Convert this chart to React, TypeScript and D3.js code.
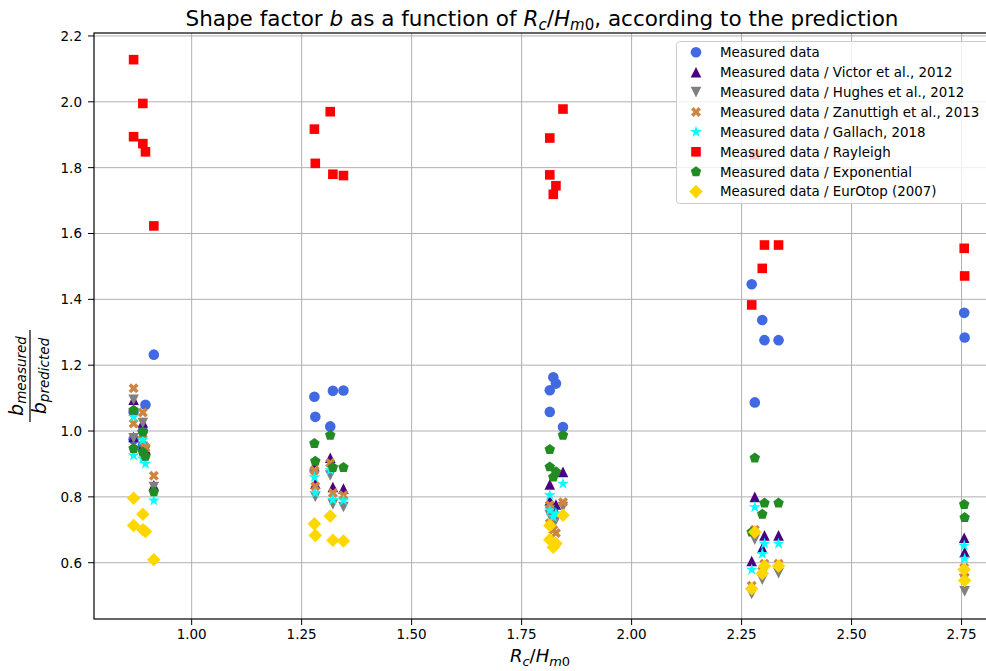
import React, { useEffect, useRef } from "react";
import * as d3 from "d3";

// relative freeboard of each test
const rcHm0 = [0.868, 0.868, 0.889, 0.889, 0.895, 0.914, 1.279, 1.281, 1.315, 1.321, 1.345, 1.814, 1.814, 1.822, 1.828, 1.844, 2.273, 2.28, 2.297, 2.302, 2.334, 2.756, 2.757];

// b_measured / b_predicted for each prediction
const measured = [1.058, 0.975, 1.0, 0.955, 1.08, 1.232, 1.104, 1.043, 1.014, 1.122, 1.123, 1.124, 1.058, 1.163, 1.144, 1.012, 1.446, 1.087, 1.337, 1.276, 1.276, 1.359, 1.284];
const victor = [1.095, 0.982, 1.026, 0.955, 0.945, 0.835, 0.893, 0.84, 0.919, 0.83, 0.825, 0.838, 0.789, 0.769, 0.777, 0.876, 0.605, 0.8, 0.645, 0.683, 0.683, 0.676, 0.632];
const hughes = [1.095, 0.978, 1.024, 0.952, 0.94, 0.83, 0.87, 0.8, 0.865, 0.777, 0.769, 0.76, 0.744, 0.715, 0.73, 0.769, 0.505, 0.67, 0.548, 0.577, 0.568, 0.55, 0.513];
const zanuttigh = [1.13, 1.023, 1.056, 0.99, 0.95, 0.864, 0.881, 0.832, 0.903, 0.812, 0.805, 0.775, 0.72, 0.7, 0.69, 0.784, 0.53, 0.7, 0.575, 0.597, 0.597, 0.585, 0.555];
const gallach = [1.043, 0.926, 0.972, 0.916, 0.901, 0.789, 0.86, 0.812, 0.881, 0.791, 0.789, 0.805, 0.759, 0.739, 0.75, 0.84, 0.579, 0.769, 0.627, 0.658, 0.658, 0.652, 0.612];
const rayleigh = [2.128, 1.894, 1.995, 1.873, 1.848, 1.623, 1.917, 1.813, 1.97, 1.78, 1.776, 1.89, 1.778, 1.719, 1.745, 1.978, 1.383, 1.839, 1.494, 1.565, 1.565, 1.555, 1.471];
const exponential = [1.063, 0.947, 0.997, 0.936, 0.923, 0.815, 0.962, 0.908, 0.987, 0.889, 0.889, 0.944, 0.891, 0.86, 0.876, 0.987, 0.693, 0.918, 0.747, 0.781, 0.781, 0.777, 0.737];
const eurotop = [0.796, 0.713, 0.747, 0.7, 0.695, 0.609, 0.718, 0.683, 0.742, 0.668, 0.666, 0.713, 0.67, 0.647, 0.658, 0.744, 0.521, 0.693, 0.567, 0.59, 0.59, 0.579, 0.546];

const xTicks = [1.0, 1.25, 1.5, 1.75, 2.0, 2.25, 2.5, 2.75];
const yTicks = [0.6, 0.8, 1.0, 1.2, 1.4, 1.6, 1.8, 2.0, 2.2];

const labels = [
  "Measured data",
  "Measured data / Victor et al., 2012",
  "Measured data / Hughes et al., 2012",
  "Measured data / Zanuttigh et al., 2013",
  "Measured data / Gallach, 2018",
  "Measured data / Rayleigh",
  "Measured data / Exponential",
  "Measured data / EurOtop (2007)",
];
const colors = ["royalblue", "indigo", "gray", "peru", "cyan", "red", "forestgreen", "gold"];
const values = [measured, victor, hughes, zanuttigh, gallach, rayleigh, exponential, eurotop];

// marker shapes, drawn with d3.symbol; size = r*r
const poly = (pts: number[][]) => ({
  draw(ctx: any, size: number) {
    const r = Math.sqrt(size);
    pts.forEach(([px, py], i) => (i ? ctx.lineTo(px * r, py * r) : ctx.moveTo(px * r, py * r)));
    ctx.closePath();
  },
});
const ring = (n: number, inner?: number) => {
  const pts: number[][] = [];
  const k = inner ? n * 2 : n;
  for (let i = 0; i < k; i++) {
    const a = -Math.PI / 2 + (i * 2 * Math.PI) / k;
    const rr = inner && i % 2 ? inner : 1;
    pts.push([rr * Math.cos(a), rr * Math.sin(a)]);
  }
  return pts;
};
const circle = {
  draw(ctx: any, size: number) {
    const r = Math.sqrt(size);
    ctx.moveTo(r, 0);
    ctx.arc(0, 0, r, 0, 2 * Math.PI);
  },
};
const markers = [
  { type: circle, r: 5.3 },
  { type: poly([[0, -1], [-1, 1], [1, 1]]), r: 5.3 },
  { type: poly([[0, 1], [-1, -1], [1, -1]]), r: 5.3 },
  { type: poly([[-0.5, -1], [0, -0.5], [0.5, -1], [1, -0.5], [0.5, 0], [1, 0.5], [0.5, 1], [0, 0.5], [-0.5, 1], [-1, 0.5], [-0.5, 0], [-1, -0.5]]), r: 5 },
  { type: poly(ring(5, 0.382)), r: 6.2 },
  { type: poly([[-1, -1], [1, -1], [1, 1], [-1, 1]]), r: 4.8 },
  { type: poly(ring(5)), r: 5.5 },
  { type: poly([[0, -1], [1, 0], [0, 1], [-1, 0]]), r: 6.8 },
];

const font = "'DejaVu Sans', sans-serif";

export default function App() {
  const ref = useRef<SVGSVGElement>(null);

  useEffect(() => {
    const svg = d3.select(ref.current);
    svg.selectAll("*").remove();

    const x = d3.scaleLinear().domain([0.778, 2.851]).range([94, 1006]);
    const y = d3.scaleLinear().domain([0.429, 2.209]).range([619, 33]);
    const [x0, x1] = x.range();
    const [y0, y1] = y.range();

    svg.append("rect").attr("width", 986).attr("height", 671).attr("fill", "white");

    // grid
    const grid = svg.append("g").attr("stroke", "#b0b0b0").attr("stroke-width", 1);
    grid.selectAll(".gx").data(xTicks).join("line")
      .attr("x1", d => x(d)).attr("x2", d => x(d)).attr("y1", y0).attr("y2", y1);
    grid.selectAll(".gy").data(yTicks).join("line")
      .attr("y1", d => y(d)).attr("y2", d => y(d)).attr("x1", x0).attr("x2", x1);

    // points
    values.forEach((vals, si) => {
      const sym = d3.symbol(markers[si].type as any, markers[si].r * markers[si].r);
      svg.append("g").selectAll("path").data(vals).join("path")
        .attr("d", sym)
        .attr("transform", (d, i) => `translate(${x(rcHm0[i])},${y(d)})`)
        .attr("fill", colors[si]);
    });

    // frame
    svg.append("rect").attr("x", x0).attr("y", y1).attr("width", x1 - x0).attr("height", y0 - y1)
      .attr("fill", "none").attr("stroke", "black").attr("stroke-width", 1.2);

    // axes ticks
    const xa = svg.append("g").attr("font-family", font).attr("font-size", 13.5);
    xa.selectAll("line").data(xTicks).join("line")
      .attr("x1", d => x(d)).attr("x2", d => x(d)).attr("y1", y0).attr("y2", y0 + 6).attr("stroke", "black");
    xa.selectAll("text").data(xTicks).join("text")
      .attr("x", d => x(d)).attr("y", y0 + 20).attr("text-anchor", "middle")
      .text(d => d3.format(".2f")(d));

    const ya = svg.append("g").attr("font-family", font).attr("font-size", 13.5);
    ya.selectAll("line").data(yTicks).join("line")
      .attr("y1", d => y(d)).attr("y2", d => y(d)).attr("x1", x0 - 6).attr("x2", x0).attr("stroke", "black");
    ya.selectAll("text").data(yTicks).join("text")
      .attr("x", x0 - 12).attr("y", d => y(d) + 5).attr("text-anchor", "end")
      .text(d => d3.format(".1f")(d));

    // title
    const title = svg.append("text").attr("x", 542).attr("y", 26).attr("text-anchor", "middle")
      .attr("font-family", font).attr("font-size", 21.5);
    title.append("tspan").text("Shape factor ");
    title.append("tspan").attr("font-style", "italic").text("b");
    title.append("tspan").text(" as a function of ");
    title.append("tspan").attr("font-style", "italic").text("R");
    title.append("tspan").attr("font-style", "italic").attr("font-size", 15).attr("dy", 4).text("c");
    title.append("tspan").attr("dy", -4).text("/");
    title.append("tspan").attr("font-style", "italic").text("H");
    title.append("tspan").attr("font-style", "italic").attr("font-size", 15).attr("dy", 4).text("m");
    title.append("tspan").attr("font-size", 15).text("0");
    title.append("tspan").attr("dy", -4).text(", according to the prediction");

    // x label
    const xl = svg.append("text").attr("x", 540).attr("y", 662).attr("text-anchor", "middle")
      .attr("font-family", font).attr("font-size", 18);
    xl.append("tspan").attr("font-style", "italic").text("R");
    xl.append("tspan").attr("font-style", "italic").attr("font-size", 13).attr("dy", 4).text("c");
    xl.append("tspan").attr("dy", -4).text("/");
    xl.append("tspan").attr("font-style", "italic").text("H");
    xl.append("tspan").attr("font-style", "italic").attr("font-size", 13).attr("dy", 4).text("m");
    xl.append("tspan").attr("font-size", 13).text("0");

    // y label: fraction
    const yl = svg.append("g").attr("transform", "translate(30,376) rotate(-90)")
      .attr("font-family", font).attr("font-style", "italic");
    const num = yl.append("text").attr("x", 0).attr("y", -7).attr("text-anchor", "middle").attr("font-size", 19);
    num.append("tspan").text("b");
    num.append("tspan").attr("font-size", 13.5).attr("dy", 3).text("measured");
    yl.append("line").attr("x1", -46).attr("x2", 46).attr("y1", 0).attr("y2", 0)
      .attr("stroke", "black").attr("stroke-width", 1.2);
    const den = yl.append("text").attr("x", 0).attr("y", 16).attr("text-anchor", "middle").attr("font-size", 19);
    den.append("tspan").text("b");
    den.append("tspan").attr("font-size", 13.5).attr("dy", 3).text("predicted");

    // legend
    const lg = svg.append("g").attr("font-family", font).attr("font-size", 13.4);
    lg.append("rect").attr("x", 676.5).attr("y", 41.5).attr("width", 330).attr("height", 162).attr("rx", 3)
      .attr("fill", "white").attr("fill-opacity", 0.8).attr("stroke", "#cccccc");
    labels.forEach((lab, i) => {
      const ly = 52.3 + i * 19.9;
      lg.append("path")
        .attr("d", d3.symbol(markers[i].type as any, markers[i].r * markers[i].r)())
        .attr("transform", `translate(696,${ly})`).attr("fill", colors[i]);
      lg.append("text").attr("x", 720).attr("y", ly + 4.8).text(lab);
    });
  }, []);

  return <svg ref={ref} width={986} height={671} style={{ position: "absolute", left: 0, top: 0, display: "block" }} />;
}
